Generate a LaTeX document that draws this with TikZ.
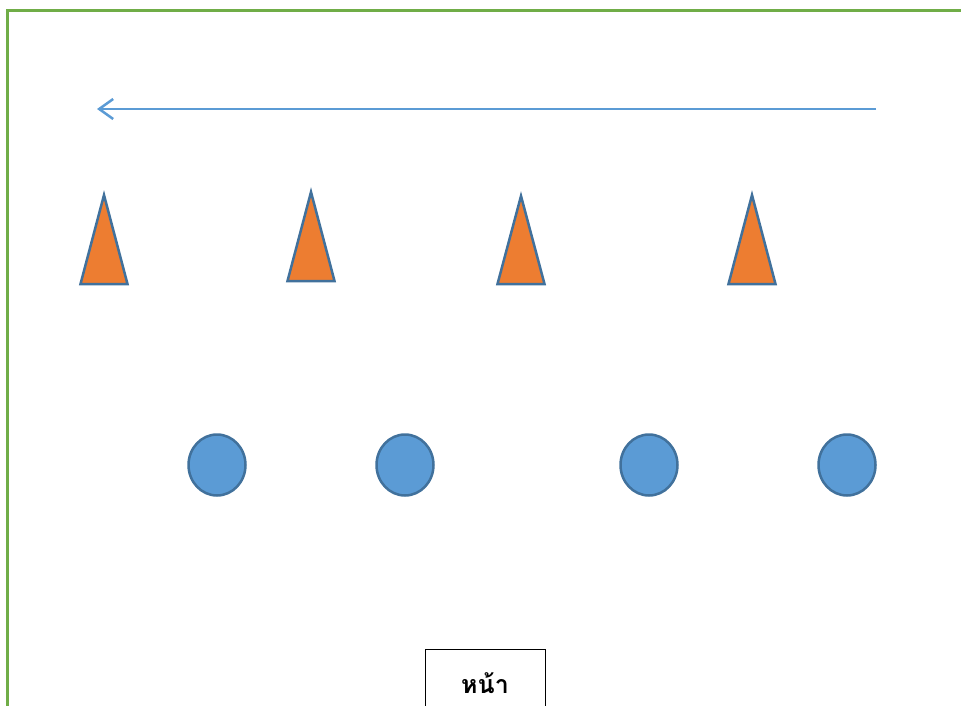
\documentclass[tikz,border=0pt]{standalone}
\usepackage{fontspec}
\usepackage{xcolor}
\usetikzlibrary{positioning, arrows.meta, calc, shapes.geometric}
\newfontfamily\thaifont[Script=Thai]{Loma}
\definecolor{fieldgreen}{HTML}{70AD47}
\definecolor{runblue}{HTML}{5B9BD5}
\definecolor{coneorange}{HTML}{ED7D31}
\definecolor{edgeblue}{HTML}{41719C}

\begin{document}
\begin{tikzpicture}[x=1pt, y=-1pt,
    cone/.style={fill=coneorange, draw=edgeblue, line width=2.5pt, line join=miter},
    marker/.style={ellipse, fill=runblue, draw=edgeblue, line width=2.5pt,
                   minimum width=57pt, minimum height=61pt, inner sep=0pt}]
  \useasboundingbox (0,0) rectangle (961,706);
  % field border
  \draw[fieldgreen, line width=3pt] (7.5,720) -- (7.5,11) -- (970,11);
  % running direction
  \coordinate (start) at (876,109);
  \coordinate (finish) at (97,109);
  \draw[runblue, line width=2.5pt, -{Straight Barb[length=14pt, width=20pt, line width=2.5pt]}]
    (start) -- (finish);
  % cones
  \foreach \cx/\ctop/\cbase in {104/195/284, 311/192/281, 521/196/284, 752/195/284}
    \draw[cone] (\cx-23.5,\cbase) -- (\cx,\ctop) -- (\cx+23.5,\cbase) -- cycle;
  % markers
  \foreach \mx [count=\i] in {217, 405, 649, 847}
    \node[marker] (mark\i) at (\mx,465) {};
  % front
  \node[draw=black, line width=0.8pt, minimum width=120pt, minimum height=80pt,
        anchor=north, inner sep=0pt] (front) at (485,649) {};
  \node[font=\thaifont\bfseries\fontsize{25}{30}\selectfont] (fronttext) at (485,683) {หน้า};
\end{tikzpicture}
\end{document}
